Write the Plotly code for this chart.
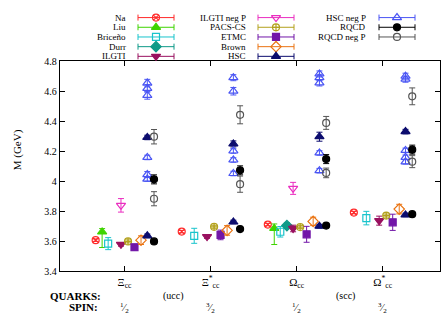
import plotly.graph_objects as go

# ---------------- data ----------------
categories = ["Ξcc", "Ξ*cc", "Ωcc", "Ω*cc"]
tick_text = ["Ξ<sub>cc</sub>", "Ξ<sup>*</sup><sub>cc</sub>",
             "Ω<sub>cc</sub>", "Ω<sup>*</sup><sub>cc</sub>"]
y_ticks = [3.4, 3.6, 3.8, 4.0, 4.2, 4.4, 4.6, 4.8]
spin_labels = ["1/2", "3/2", "1/2", "3/2"]

na_cat = [0, 1, 2, 3]
na_m = [3.608, 3.665, 3.712, 3.792]
na_ep = [0.008, 0.008, 0.008, 0.008]

liu_cat = [0, 2]
liu_m = [3.663, 3.686]
liu_ep = [0.022, 0.03]
liu_em = [0.104, 0.107]

bri_cat = [0, 1, 2, 3]
bri_m = [3.585, 3.637, 3.664, 3.755]
bri_ep = [0.04, 0.05, 0.035, 0.045]

durr_cat = [2]
durr_m = [3.705]
durr_ep = [0.02]

ilg_cat = [0, 1, 2, 3]
ilg_m = [3.58, 3.632, 3.686, 3.738]
ilg_ep = [0.012, 0.012, 0.022, 0.03]

ilgn_cat = [0, 2]
ilgn_m = [3.84, 3.953]
ilgn_ep = [0.045, 0.04]

pacs_cat = [0, 1, 2, 3]
pacs_m = [3.6, 3.697, 3.695, 3.772]
pacs_ep = [0.01, 0.01, 0.01, 0.01]

etmc_cat = [0, 1, 2, 3]
etmc_m = [3.561, 3.643, 3.647, 3.727]
etmc_ep = [0.02, 0.032, 0.053, 0.054]

brown_cat = [0, 1, 2, 3]
brown_m = [3.608, 3.673, 3.733, 3.815]
brown_ep = [0.029, 0.032, 0.028, 0.032]

hsc_cat = [0, 1, 2, 3, 0, 1, 2, 3]
hsc_m = [3.637, 3.729, 3.701, 3.776, 4.292, 4.249, 4.297, 4.331]
hsc_ep = [0.012, 0.012, 0.012, 0.012, 0.015, 0.02, 0.03, 0.015]

hscn_cat = [0, 0, 0, 0, 0, 0,
            1, 1, 1, 1, 1,
            2, 2, 2, 2, 2,
            3, 3, 3, 3, 3]
hscn_m = [4.654, 4.619, 4.572, 4.159, 4.045, 4.015,
          4.69, 4.60, 4.202, 4.142, 4.052,
          4.715, 4.69, 4.655, 4.189, 4.071,
          4.70, 4.68, 4.206, 4.16, 4.13]
hscn_ep = [0.025, 0.025, 0.025, 0.015, 0.02, 0.015,
           0.02, 0.025, 0.015, 0.015, 0.015,
           0.02, 0.02, 0.02, 0.015, 0.015,
           0.02, 0.02, 0.015, 0.015, 0.015]

rqcd_cat = [0, 1, 2, 3, 0, 1, 2, 3]
rqcd_m = [3.6, 3.682, 3.705, 3.781, 4.013, 4.073, 4.148, 4.211]
rqcd_ep = [0.008, 0.008, 0.008, 0.008, 0.03, 0.03, 0.03, 0.03]

rqcdn_cat = [0, 0, 1, 1, 2, 2, 3, 3]
rqcdn_m = [4.297, 3.884, 4.443, 3.981, 4.389, 4.056, 4.566, 4.131]
rqcdn_ep = [0.048, 0.047, 0.06, 0.054, 0.043, 0.032, 0.056, 0.04]

# ---------------- styles ----------------
# name, cats, masses, err+, err-, color, symbol, size, offset (category units), legend col,row
series = [
    ("Na", na_cat, na_m, na_ep, None, "#ff2a2a", "circle-x-open", 7, -0.335, 0, 0),
    ("Liu", liu_cat, liu_m, liu_ep, liu_em, "#3fd400", "triangle-up", 8, -0.26, 0, 1),
    ("Briceño", bri_cat, bri_m, bri_ep, None, "#19c4cc", "square-open", 7, -0.19, 0, 2),
    ("Durr", durr_cat, durr_m, durr_ep, None, "#0f9a88", "diamond", 8, -0.113, 0, 3),
    ("ILGTI", ilg_cat, ilg_m, ilg_ep, None, "#99105f", "triangle-down", 8, -0.041, 0, 4),
    ("ILGTI neg P", ilgn_cat, ilgn_m, ilgn_ep, None, "#ea2ec0", "triangle-down-open", 8, -0.041, 1, 0),
    ("PACS-CS", pacs_cat, pacs_m, pacs_ep, None, "#b3a11c", "circle-cross-open", 7, 0.041, 1, 1),
    ("ETMC", etmc_cat, etmc_m, etmc_ep, None, "#7216a8", "square", 7, 0.116, 1, 2),
    ("Brown", brown_cat, brown_m, brown_ep, None, "#ea7413", "diamond-open", 8, 0.192, 1, 3),
    ("HSC", hsc_cat, hsc_m, hsc_ep, None, "#0c0c6e", "triangle-up", 8, 0.265, 1, 4),
    ("HSC neg P", hscn_cat, hscn_m, hscn_ep, None, "#4a55f4", "triangle-up-open", 8, 0.265, 2, 0),
    ("RQCD", rqcd_cat, rqcd_m, rqcd_ep, None, "#000000", "circle", 7, 0.343, 2, 1),
    ("RQCD neg P", rqcdn_cat, rqcdn_m, rqcdn_ep, None, "#555555", "circle-open", 7, 0.343, 2, 2),
]

W, H = 444, 320
FONT = "Liberation Serif"
x_left_px, x_right_px = 60, 440
y_top_px, y_bot_px = 58, 275
px_per_cat = 86.07
x_range = [1 - (124.5 - x_left_px) / px_per_cat, 4 + (x_right_px - 382.7) / px_per_cat]

leg_sym_x = [156, 276, 397]
leg_txt_x = [128, 248, 368]
leg_row_y = [13, 23, 33, 43, 53]
leg_half = 18

fig = go.Figure()

for name, cats, ms, ep, em, col, sym, size, off, lc, lr in series:
    err = dict(type="data", array=ep, color=col, thickness=1, width=3, visible=True)
    if em is not None:
        err["symmetric"] = False
        err["arrayminus"] = em
    fig.add_trace(go.Scatter(
        x=[c + 1 + off for c in cats], y=ms, mode="markers", name=name,
        marker=dict(symbol=sym, size=size, color=col,
                    line=dict(width=1.2, color=col)),
        error_y=err, showlegend=False, xaxis="x", yaxis="y"))
    # legend sample
    fig.add_trace(go.Scatter(
        x=[leg_sym_x[lc]], y=[leg_row_y[lr]], mode="markers", showlegend=False,
        marker=dict(symbol=sym, size=size, color=col,
                    line=dict(width=1.2, color=col)),
        error_x=dict(type="data", array=[leg_half], color=col, thickness=1, width=3),
        xaxis="x2", yaxis="y2", hoverinfo="skip"))

annotations = []
for name, cats, ms, ep, em, col, sym, size, off, lc, lr in series:
    annotations.append(dict(x=leg_txt_x[lc], y=leg_row_y[lr], xref="x2", yref="y2",
                            text=name, showarrow=False, xanchor="right", yanchor="middle",
                            font=dict(family=FONT, size=9, color="black")))

annotations += [
    dict(x=103, y=300, xref="x2", yref="y2", text="<b>QUARKS:</b>", showarrow=False,
         xanchor="right", yanchor="middle", font=dict(family=FONT, size=11, color="black")),
    dict(x=100, y=312, xref="x2", yref="y2", text="<b>SPIN:</b>", showarrow=False,
         xanchor="right", yanchor="middle", font=dict(family=FONT, size=11, color="black")),
    dict(x=1.565, y=(H - 300) / H, xref="x", yref="paper", text="(ucc)", showarrow=False,
         xanchor="center", yanchor="middle", font=dict(family=FONT, size=10, color="black")),
    dict(x=3.57, y=(H - 300) / H, xref="x", yref="paper", text="(scc)", showarrow=False,
         xanchor="center", yanchor="middle", font=dict(family=FONT, size=10, color="black")),
    dict(x=17, y=150, xref="x2", yref="y2", text="M (GeV)", showarrow=False, textangle=-90,
         xanchor="center", yanchor="middle", font=dict(family=FONT, size=11, color="black")),
]
for i, s in enumerate(spin_labels):
    num, den = s.split("/")
    annotations.append(dict(x=i + 1, y=(H - 313) / H, xref="x", yref="paper",
                            text=f"<sup>{num}</sup>⁄<sub>{den}</sub>", showarrow=False,
                            xanchor="center", yanchor="middle",
                            font=dict(family=FONT, size=10, color="black")))

axis_common = dict(showline=True, linecolor="black", linewidth=1.3, mirror="ticks",
                   ticks="inside", ticklen=5, tickwidth=1, tickcolor="black",
                   showgrid=False, zeroline=False)

fig.update_layout(
    width=W, height=H, margin=dict(l=0, r=0, t=0, b=0),
    paper_bgcolor="white", plot_bgcolor="rgba(0,0,0,0)",
    font=dict(family=FONT, color="black"),
    xaxis=dict(domain=[x_left_px / W, x_right_px / W], range=x_range,
               tickvals=[1, 2, 3, 4], ticktext=tick_text,
               tickfont=dict(family=FONT, size=11), anchor="y", **axis_common),
    yaxis=dict(domain=[(H - y_bot_px) / H, (H - y_top_px) / H], range=[3.4, 4.8],
               tickvals=y_ticks, tickfont=dict(family=FONT, size=10), anchor="x",
               **axis_common),
    xaxis2=dict(domain=[0, 1], range=[0, W], visible=False, anchor="y2", fixedrange=True),
    yaxis2=dict(domain=[0, 1], range=[H, 0], visible=False, anchor="x2", fixedrange=True),
    annotations=annotations,
    showlegend=False,
)

fig.write_html("out.html")
